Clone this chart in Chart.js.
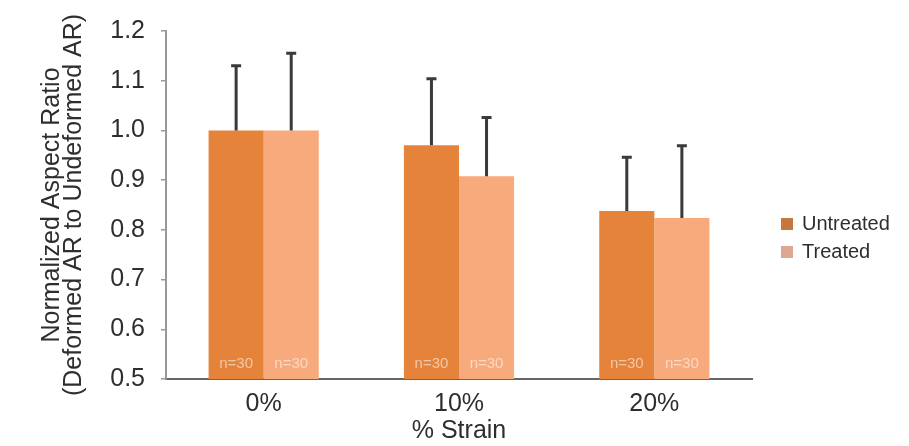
<!DOCTYPE html>
<html>
<head>
<meta charset="utf-8">
<script src="https://cdn.jsdelivr.net/npm/chart.js@4.4.1/dist/chart.umd.min.js"></script>
<style>
  html, body { margin: 0; padding: 0; background: #ffffff; }
  #wrap { width: 909px; height: 446px; }
</style>
</head>
<body>
<div id="wrap"><canvas id="c" width="909" height="446"></canvas></div>
<script>
// Strain levels and the normalized aspect ratio (mean and +SD) for each group
const strainLevels = ['0%', '10%', '20%'];
const untreatedMean = [1.0, 0.97, 0.838];
const untreatedSD = [0.13, 0.134, 0.108];
const treatedMean = [1.0, 0.908, 0.824];
const treatedSD = [0.155, 0.118, 0.145];
const untreatedN = [30, 30, 30];
const treatedN = [30, 30, 30];
const yTicks = [0.5, 0.6, 0.7, 0.8, 0.9, 1.0, 1.1, 1.2];

const FONT = "'Liberation Sans', Arial, sans-serif";
const TEXT = '#2e2e2e';

// Upper error whiskers drawn through the y scale
const errorBars = {
  id: 'errorBars',
  afterDatasetsDraw(chart) {
    const { ctx, scales: { y } } = chart;
    ctx.save();
    ctx.strokeStyle = '#3a3a3a';
    ctx.lineWidth = 3;
    chart.data.datasets.forEach((ds, i) => {
      const meta = chart.getDatasetMeta(i);
      meta.data.forEach((bar, j) => {
        const top = y.getPixelForValue(ds.data[j] + ds.sd[j]);
        const base = y.getPixelForValue(ds.data[j]);
        ctx.beginPath();
        ctx.moveTo(bar.x, base);
        ctx.lineTo(bar.x, top);
        ctx.moveTo(bar.x - 5, top);
        ctx.lineTo(bar.x + 5, top);
        ctx.stroke();
      });
    });
    ctx.restore();
  }
};

// Sample counts written at the foot of each bar
const sampleCounts = {
  id: 'sampleCounts',
  afterDatasetsDraw(chart) {
    const { ctx, scales: { y } } = chart;
    ctx.save();
    ctx.font = '15px ' + FONT;
    ctx.fillStyle = 'rgba(255,255,255,0.55)';
    ctx.textAlign = 'center';
    ctx.textBaseline = 'middle';
    chart.data.datasets.forEach((ds, i) => {
      const meta = chart.getDatasetMeta(i);
      meta.data.forEach((bar, j) => {
        ctx.fillText('n=' + ds.n[j], bar.x, y.bottom - 15);
      });
    });
    ctx.restore();
  }
};

// Legend to the right of the plot
const sideLegend = {
  id: 'sideLegend',
  afterDraw(chart) {
    const { ctx } = chart;
    ctx.save();
    ctx.font = '20px ' + FONT;
    ctx.textBaseline = 'middle';
    ctx.textAlign = 'left';
    chart.data.datasets.forEach((ds, i) => {
      const cy = 224 + i * 28;
      ctx.fillStyle = ds.legendColor;
      ctx.fillRect(781, cy - 6, 12, 12);
      ctx.fillStyle = TEXT;
      ctx.fillText(ds.label, 802, cy);
    });
    ctx.restore();
  }
};

new Chart(document.getElementById('c'), {
  type: 'bar',
  data: {
    labels: strainLevels,
    datasets: [
      { label: 'Untreated', data: untreatedMean, sd: untreatedSD, n: untreatedN,
        backgroundColor: '#E5833A', legendColor: '#C47840' },
      { label: 'Treated', data: treatedMean, sd: treatedSD, n: treatedN,
        backgroundColor: '#F7AA7C', legendColor: '#DDA693' }
    ]
  },
  options: {
    responsive: false,
    animation: false,
    layout: { padding: { top: 22, right: 157, left: 0, bottom: 0 } },
    datasets: { bar: { categoryPercentage: 0.564, barPercentage: 1.0 } },
    plugins: { legend: { display: false }, tooltip: { enabled: false } },
    scales: {
      x: {
        grid: { display: false },
        border: { display: true, color: '#666666', width: 2 },
        ticks: { color: TEXT, font: { family: FONT, size: 25 }, padding: 2 },
        title: { display: true, text: '% Strain', color: TEXT,
                 font: { family: FONT, size: 25 }, padding: { top: 0, bottom: 0 } },
        afterFit(s) { s.height = 67; }
      },
      y: {
        min: 0.5, max: 1.2,
        afterBuildTicks(s) { s.ticks = yTicks.map(v => ({ value: v })); },
        grid: { drawOnChartArea: false, drawTicks: true, tickLength: 5, color: '#999999', lineWidth: 1.5 },
        border: { display: true, color: '#999999', width: 2 },
        ticks: { color: TEXT, font: { family: FONT, size: 25 }, padding: 16,
                 callback: v => v.toFixed(1) },
        title: { display: true, text: ['Normalized Aspect Ratio', '(Deformed AR to Undeformed AR)'],
                 color: TEXT, font: { family: FONT, size: 25, lineHeight: 0.88 },
                 padding: { top: 41, bottom: 0 } },
        afterFit(s) { s.width = 166; }
      }
    }
  },
  plugins: [errorBars, sampleCounts, sideLegend]
});
</script>
</body>
</html>
